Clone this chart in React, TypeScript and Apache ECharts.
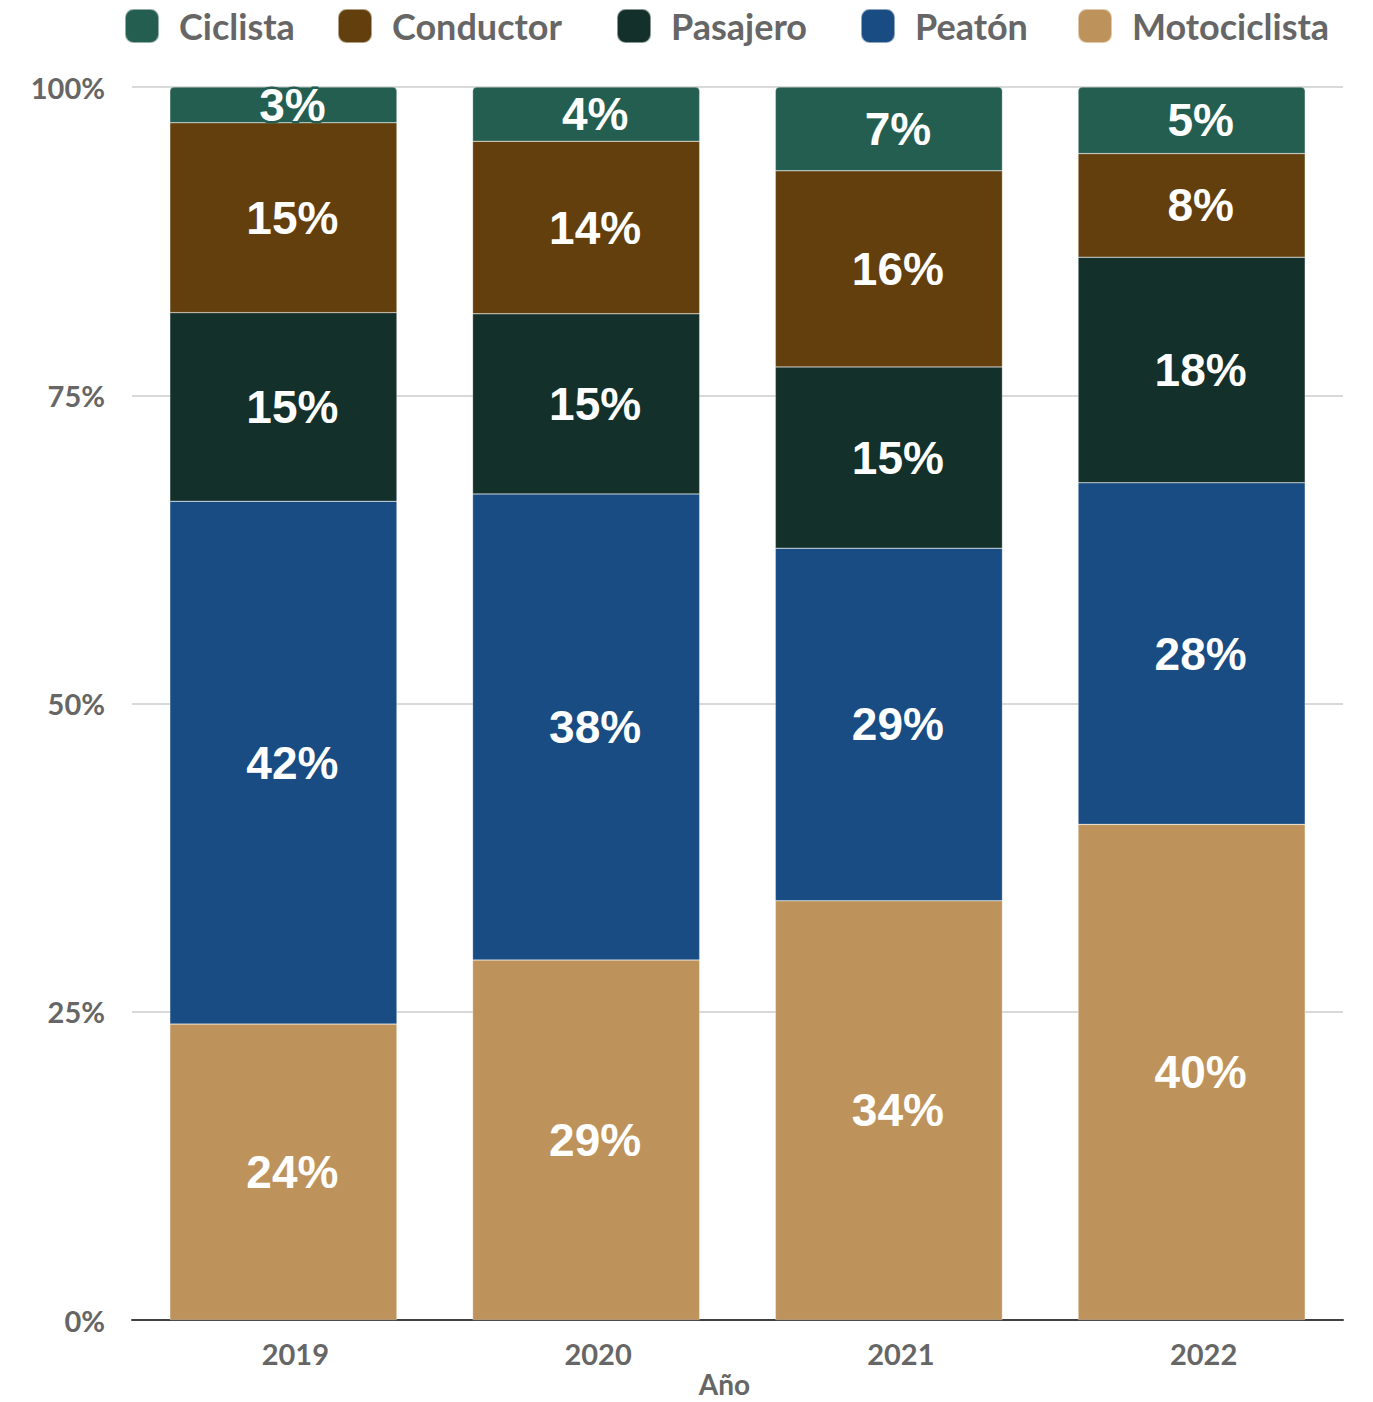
import React, { useEffect, useRef } from "react";
import * as echarts from "echarts";

const years = ["2019", "2020", "2021", "2022"];
const motociclista = [24.0, 29.2, 34.0, 40.2];
const peaton = [42.4, 37.8, 28.6, 27.7];
const pasajero = [15.3, 14.6, 14.7, 18.3];
const conductor = [15.4, 14.0, 15.9, 8.4];
const ciclista = [2.9, 4.4, 6.8, 5.4];
const yTicks = [0, 25, 50, 75, 100];
const legendNames = ["Ciclista", "Conductor", "Pasajero", "Peatón", "Motociclista"];
const legendLeft = [124, 337, 616, 860, 1077];

const colors: Record<string, string> = {
  Ciclista: "#245E50",
  Conductor: "#623F0C",
  Pasajero: "#13302A",
  "Peatón": "#184C82",
  Motociclista: "#BE935B",
};

export default function App() {
  const ref = useRef<HTMLDivElement>(null);
  useEffect(() => {
    if (!ref.current) return;
    const chart = echarts.init(ref.current, null, { renderer: "svg" });
    const mk = (name: string, data: number[], extra: any = {}) => ({
      name,
      type: "bar",
      stack: "total",
      data,
      barWidth: "75%",
      itemStyle: { color: colors[name], borderColor: "rgba(255,255,255,0.5)", borderWidth: 0.5, ...(extra.itemStyle || {}) },
      label: {
        show: true,
        position: "inside",
        offset: [9, 0],
        formatter: (p: any) => Math.round(p.value) + "%",
        color: "#ffffff",
        fontFamily: "Liberation Sans, Arial, sans-serif",
        fontWeight: "bold",
        fontSize: 46,
        ...(extra.label || {}),
      },
    });
    chart.setOption({
      animation: false,
      legend: legendNames.map((n, i) => ({
        data: [n],
        left: legendLeft[i],
        top: 8,
        padding: 0,
        itemWidth: 34,
        itemHeight: 34,
        icon: "roundRect",
        textStyle: {
          color: "#666666",
          fontFamily: "Lato, sans-serif",
          fontWeight: "bold",
          fontSize: 36,
          padding: [0, 0, 0, 15],
        },
      })),
      grid: { left: 132, right: 30, top: 87, bottom: 82, containLabel: false, outerBoundsMode: "none" },
      xAxis: {
        type: "category",
        data: years,
        name: "Año",
        nameLocation: "middle",
        nameGap: 50,
        nameMoveOverlap: false,
        nameTextStyle: {
          color: "#666666",
          fontFamily: "Lato, sans-serif",
          fontWeight: "bold",
          fontSize: 28,
          lineHeight: 28,
          padding: [0, 26, 0, 0],
        },
        axisLine: { lineStyle: { color: "#404040", width: 2 } },
        axisTick: { show: false },
        axisLabel: {
          color: "#666666",
          fontFamily: "Lato, sans-serif",
          fontWeight: "bold",
          fontSize: 29,
          margin: 19,
          padding: [0, 0, 0, 24],
        },
      },
      yAxis: {
        type: "value",
        min: yTicks[0],
        max: yTicks[yTicks.length - 1],
        interval: 25,
        axisLabel: {
          formatter: "{value}%",
          color: "#666666",
          fontFamily: "Lato, sans-serif",
          fontWeight: "bold",
          fontSize: 29,
          margin: 27,
          padding: [0, 0, 4, 0],
        },
        axisLine: { show: false },
        axisTick: { show: false },
        splitLine: { lineStyle: { color: "#d9d9d9", width: 2 } },
      },
      series: [
        mk("Motociclista", motociclista),
        mk("Peatón", peaton),
        mk("Pasajero", pasajero),
        mk("Conductor", conductor),
        mk("Ciclista", ciclista, {
          itemStyle: { borderRadius: [4, 4, 0, 0] },
          label: { textBorderColor: "#245E50", textBorderWidth: 5 },
        }),
      ],
    });
    return () => chart.dispose();
  }, []);
  return (
    <div
      ref={ref}
      style={{ position: "absolute", left: 0, top: 0, width: 1373, height: 1402 }}
    />
  );
}
